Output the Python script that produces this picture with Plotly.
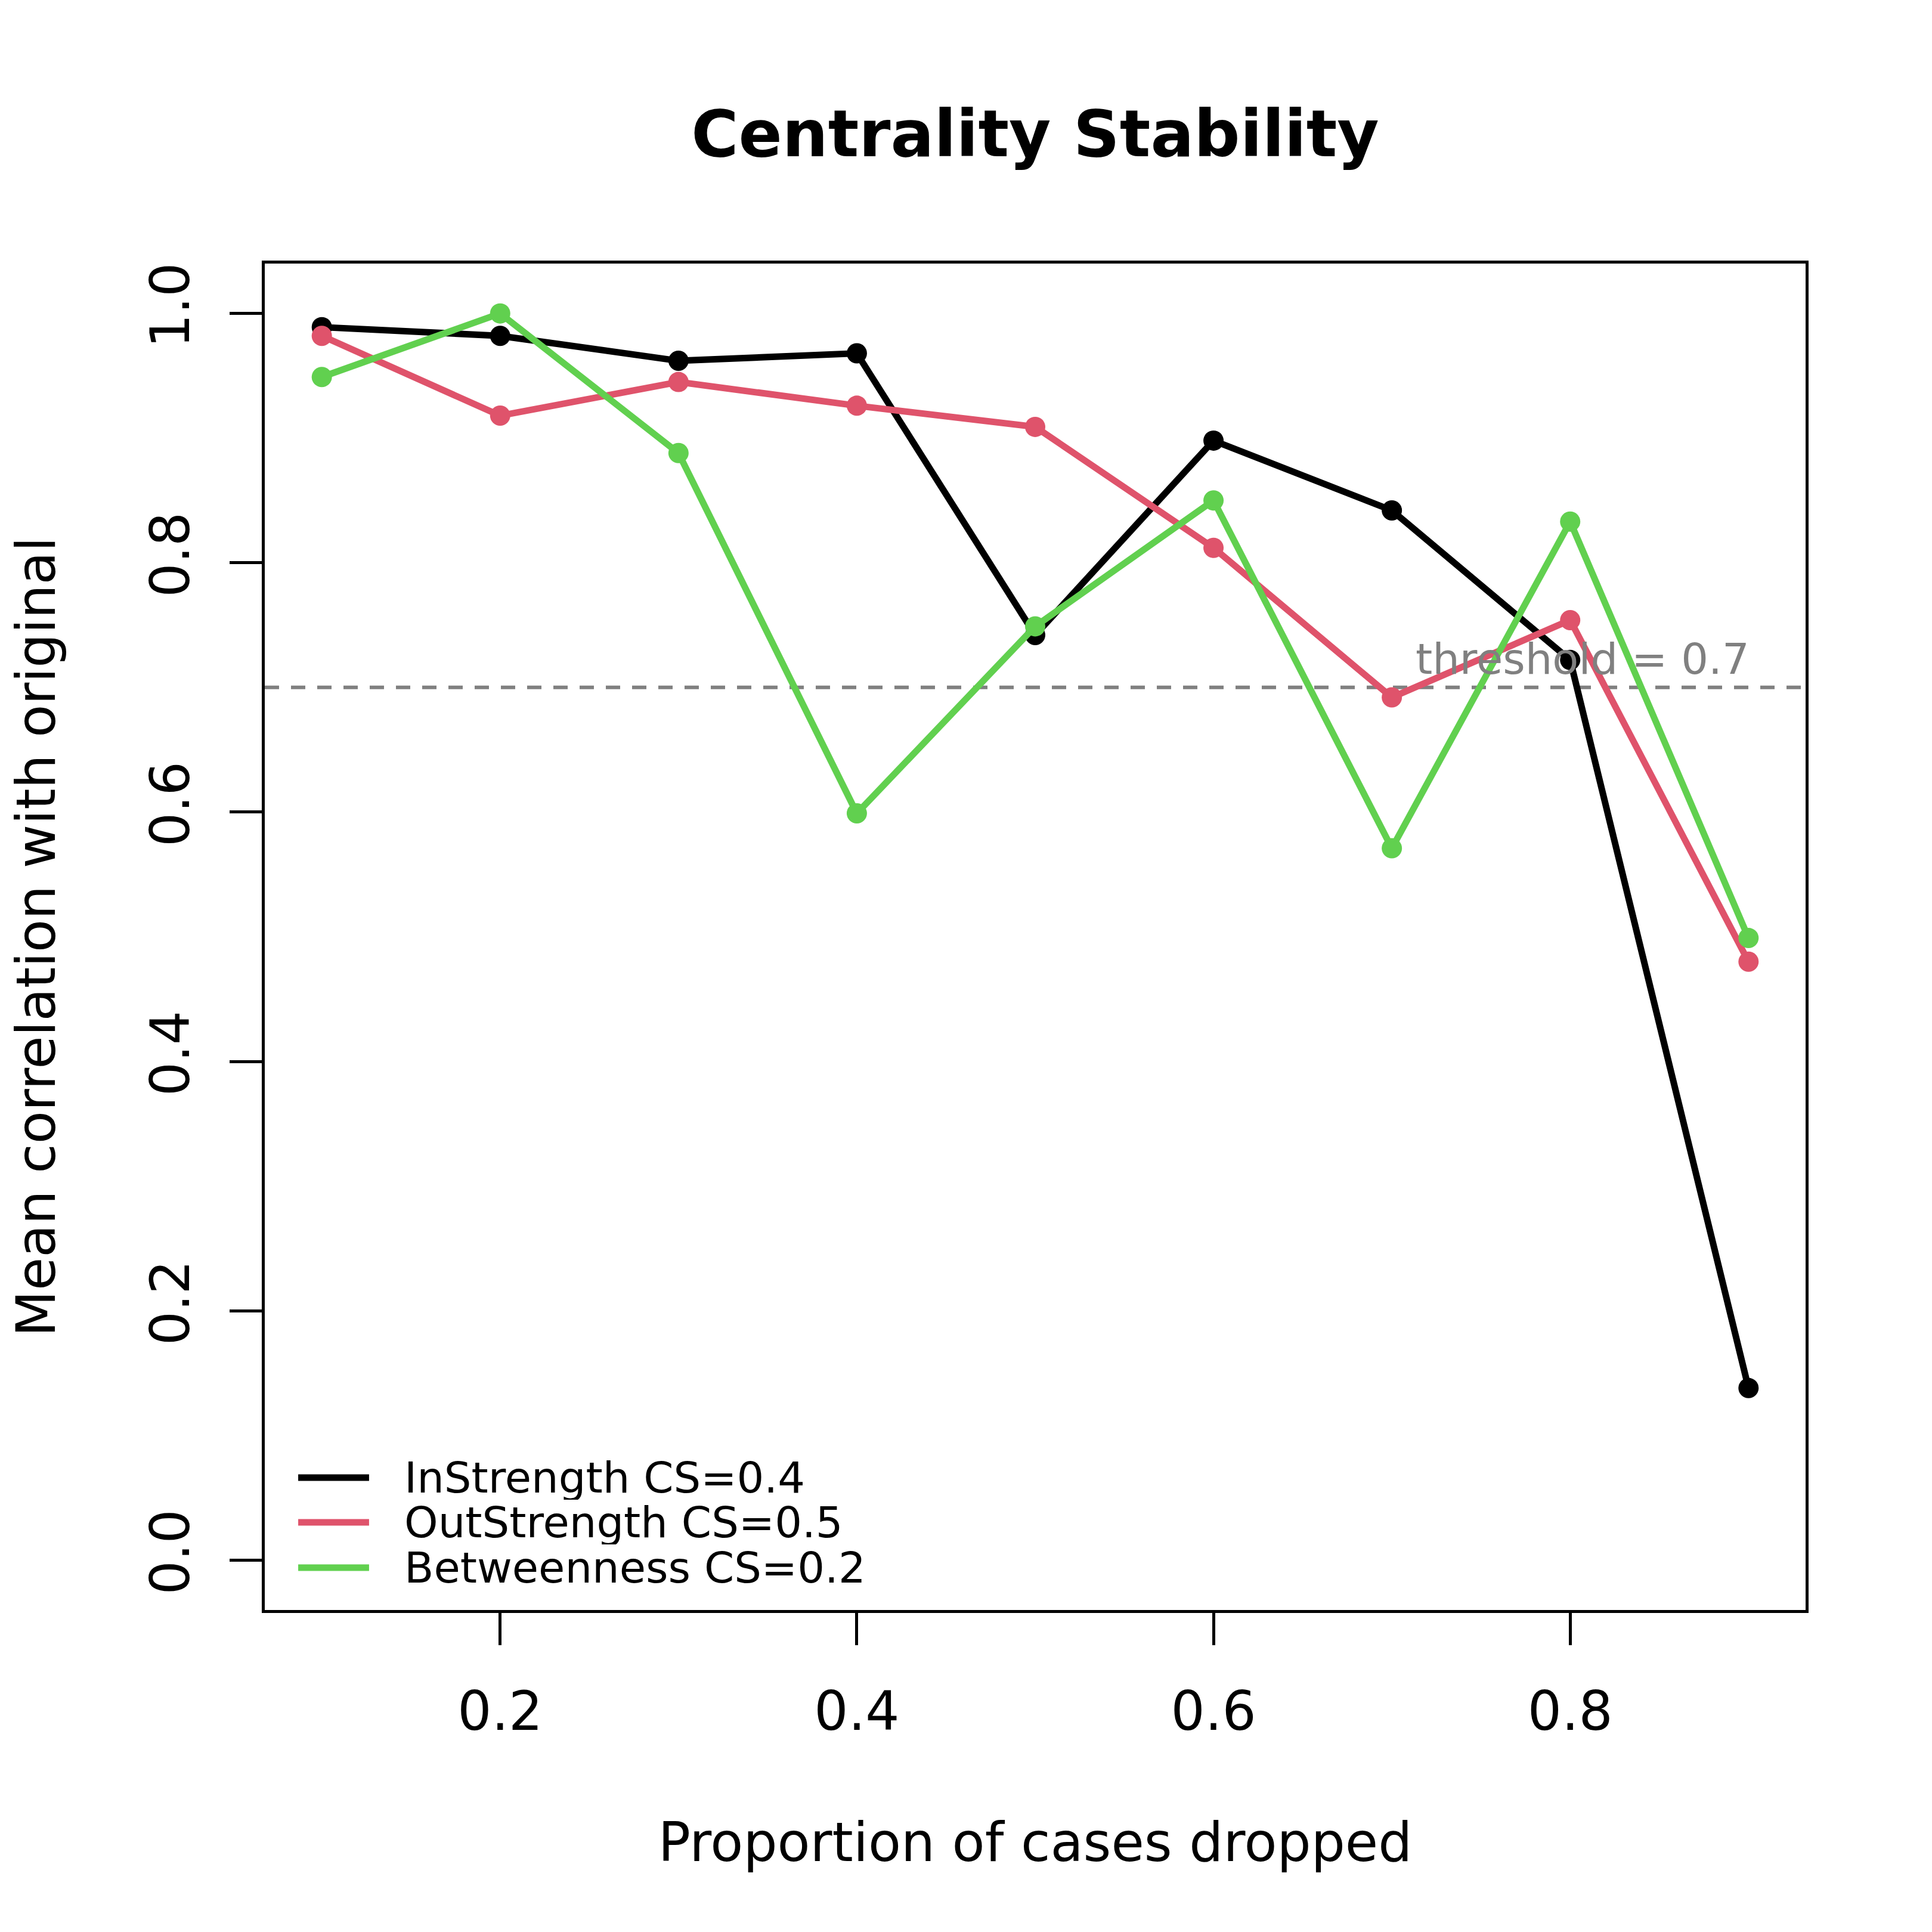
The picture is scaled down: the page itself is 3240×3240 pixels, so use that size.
import plotly.graph_objects as go

# proportion of cases dropped
prop_dropped = [0.1, 0.2, 0.3, 0.4, 0.5, 0.6, 0.7, 0.8, 0.9]

in_strength = [0.989, 0.982, 0.962, 0.968, 0.742, 0.898, 0.842, 0.722, 0.138]
out_strength = [0.982, 0.918, 0.945, 0.926, 0.909, 0.812, 0.692, 0.754, 0.480]
betweenness = [0.949, 1.000, 0.888, 0.599, 0.749, 0.850, 0.571, 0.833, 0.499]

series_names = ["InStrength CS=0.4", "OutStrength CS=0.5", "Betweenness CS=0.2"]
series_colors = ["#000000", "#DF536B", "#61D04F"]

threshold = 0.7

x_ticks = [0.2, 0.4, 0.6, 0.8]
y_ticks = [0.0, 0.2, 0.4, 0.6, 0.8, 1.0]

FONT = "DejaVu Sans"

fig = go.Figure()
for name, vals, col in zip(series_names, [in_strength, out_strength, betweenness], series_colors):
    fig.add_trace(go.Scatter(
        x=prop_dropped, y=vals, name=name, mode="lines+markers",
        line=dict(color=col, width=11),
        marker=dict(color=col, size=34),
        showlegend=False,
    ))

# abline for the threshold
fig.add_shape(type="line", xref="paper", x0=0, x1=1, yref="y", y0=threshold, y1=threshold,
              line=dict(color="#808080", width=6, dash="24px,20px"), layer="below")
fig.add_annotation(x=0.9, y=threshold, xref="x", yref="y", xanchor="right", yanchor="bottom",
                   yshift=4, xshift=4, showarrow=False, text=f"threshold = {threshold}",
                   font=dict(family=FONT, size=72, color="#808080"))

# legend, drawn by hand (bty = "n" style)
leg_y = [0.0983, 0.0651, 0.0314]
for name, col, ly in zip(series_names, series_colors, leg_y):
    fig.add_shape(type="line", xref="paper", yref="paper", x0=0.0217, x1=0.0677, y0=ly, y1=ly,
                  line=dict(color=col, width=11))
    fig.add_annotation(x=0.0902, y=ly, xref="paper", yref="paper", xanchor="left", yanchor="middle",
                       showarrow=False, text=name, height=74, borderpad=0,
                       font=dict(family=FONT, size=72, color="black"))

axis_common = dict(
    showgrid=False, zeroline=False, showline=True, mirror=True,
    linecolor="black", linewidth=5,
    ticks="outside", ticklen=54, tickwidth=5, tickcolor="black",
    tickfont=dict(family=FONT, size=90, color="black"),
)

fig.update_layout(
    width=3240, height=3240,
    margin=dict(l=444, r=212, t=442, b=540),
    paper_bgcolor="white", plot_bgcolor="white",
    font=dict(family=FONT, color="black"),
    title=dict(text="Centrality Stability", x=0.5, xref="paper", xanchor="center",
               y=1 - 224 / 3240, yref="container", yanchor="middle",
               font=dict(family=FONT, size=108, color="black", weight="bold")),
    xaxis=dict(axis_common, range=[0.068, 0.932], tickvals=x_ticks, tickformat=".1f",
               ticklabelstandoff=34,
               title=dict(text="Proportion of cases dropped", standoff=138,
                          font=dict(family=FONT, size=90, color="black"))),
    yaxis=dict(axis_common, range=[-0.04, 1.04], tickvals=y_ticks, tickformat=".1f", tickangle=-90,
               ticklabelstandoff=32,
               title=dict(text="Mean correlation with original", standoff=112,
                          font=dict(family=FONT, size=90, color="black"))),
)

fig.write_html("out.html", config={"displayModeBar": False},
               post_script="document.body.style.margin='0';document.body.style.overflow='hidden';")
